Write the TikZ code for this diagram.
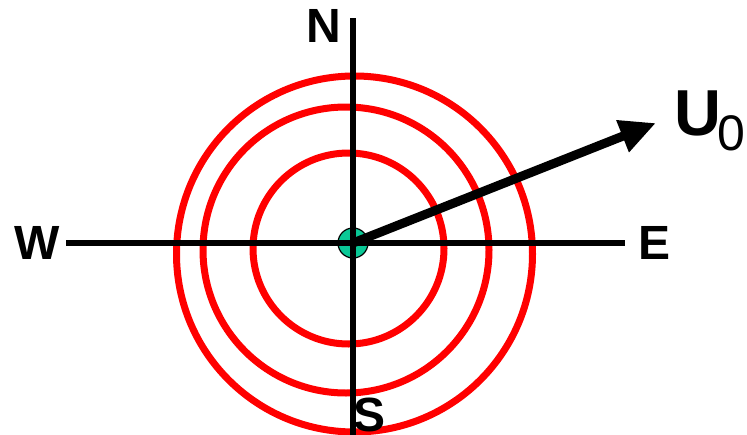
\documentclass[tikz,border=0pt]{standalone}
\usepackage{fontspec}
\setmainfont{Liberation Sans}
\usepackage{xcolor}
\usetikzlibrary{arrows.meta,positioning}
\definecolor{ringred}{RGB}{255,0,0}
\definecolor{dotgreen}{RGB}{10,200,150}

\begin{document}
\begin{tikzpicture}[
  x=1pt, y=-1pt,
  label/.style={inner sep=0pt, font=\fontsize{48}{48}\selectfont\bfseries},
  ring/.style={draw=ringred, line width=7pt},
  axis/.style={draw=black, line width=6pt},
  vec/.style={line width=9pt, -{Triangle[length=36pt,width=32pt]}}
]
  \useasboundingbox (0,0) rectangle (747,434);

  \draw[ring] (348.5,248.5) circle (95.5pt);
  \draw[ring] (346,250)     circle (143pt);
  \draw[ring] (354.5,254)   circle (178pt);

  \node[circle, draw, fill=dotgreen, line width=1.2pt, minimum size=30pt, inner sep=0pt] (o) at (353,243) {};

  \coordinate (wend) at (66,243);
  \coordinate (eend) at (625,243);
  \coordinate (nend) at (353,18);
  \coordinate (send) at (353,440);
  \coordinate (tip)  at (656,123);

  \node[label] (n) at (324,26)  {N};
  \node[label] (s) at (370,415) {S};
  \node[label] (w) at (37,243)  {W};
  \node[label] (e) at (655,243) {E};
  \node[inner sep=0pt, anchor=base west] (u) at (674,135)
    {\fontsize{65}{65}\selectfont\bfseries U\kern-4pt\raisebox{-15pt}{\fontsize{50}{50}\selectfont\mdseries 0}};

  \draw[axis] (wend) -- (eend);
  \draw[axis] (nend) -- (send);
  \draw[vec] (o.center) -- (tip);
\end{tikzpicture}
\end{document}
